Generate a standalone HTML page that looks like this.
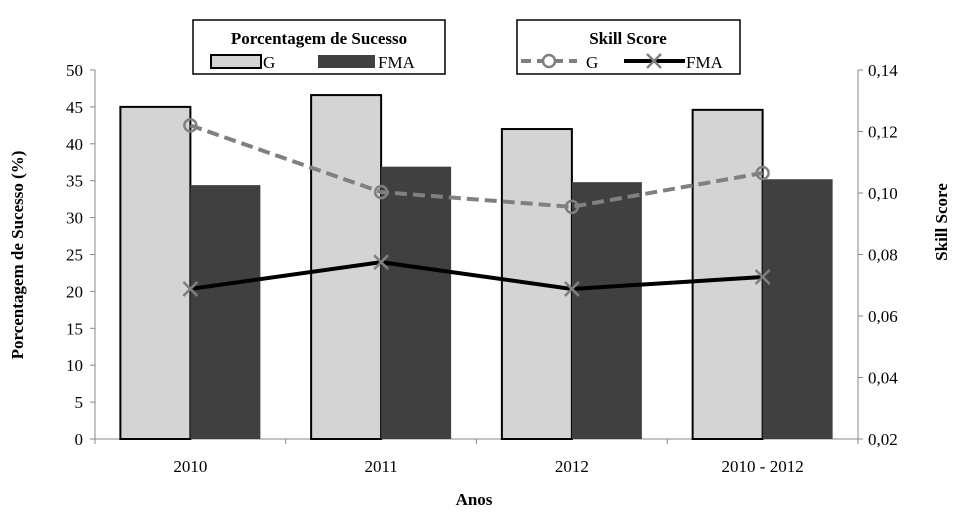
<!DOCTYPE html>
<html><head><meta charset="utf-8"><style>
body{margin:0;background:#fff;}
svg{display:block;font-family:"Liberation Serif",serif;}
</style></head><body>
<svg id="c" width="976" height="514"></svg>
<script>
const categories=["2010","2011","2012","2010 - 2012"];
const gPct=[45.0,46.6,42.0,44.6];
const fmaPct=[34.4,36.9,34.8,35.2];
const gSkill=[0.122,0.1003,0.0955,0.1065];
const fmaSkill=[0.0688,0.0775,0.0688,0.0727];
const leftTicks=[0,5,10,15,20,25,30,35,40,45,50];
const rightTicks=[0.02,0.04,0.06,0.08,0.10,0.12,0.14];

const NS="http://www.w3.org/2000/svg";
const svg=document.getElementById('c');
function mk(t,a,p){const e=document.createElementNS(NS,t);for(const k in a)e.setAttribute(k,a[k]);(p||svg).appendChild(e);return e;}
const X0=95,X1=858,Y0=439,Y1=70;
const yL=v=>Y0-(v/50)*(Y0-Y1);
const yR=v=>Y0-((v-0.02)/0.12)*(Y0-Y1);
const bw=(X1-X0)/categories.length;
const xc=i=>X0+bw*(i+0.5);

// axes
let e=mk('line',{x1:X0,y1:Y1,x2:X0,y2:Y0,stroke:'#888','stroke-width':1});

e=mk('line',{x1:X1,y1:Y1,x2:X1,y2:Y0,stroke:'#888','stroke-width':1});

e=mk('line',{x1:X0,y1:Y0,x2:X1,y2:Y0,stroke:'#888','stroke-width':1});


leftTicks.forEach(v=>{
 mk('line',{x1:X0-5,x2:X0,y1:yL(v),y2:yL(v),stroke:'#888'});
 const t=mk('text',{x:X0-12,y:yL(v)+6,'text-anchor':'end','font-size':17});t.textContent=v;
 
});
rightTicks.forEach(v=>{
 mk('line',{x1:X1,x2:X1+5,y1:yR(v),y2:yR(v),stroke:'#888'});
 const t=mk('text',{x:X1+10,y:yR(v)+6,'font-size':17});t.textContent=v.toFixed(2).replace('.',',');
 
});
for(let i=0;i<=categories.length;i++){mk('line',{x1:X0+bw*i,x2:X0+bw*i,y1:Y0,y2:Y0+5,stroke:'#888'});}

const BW=70;
categories.forEach((c,i)=>{
 let r=mk('rect',{x:xc(i)-BW,y:yL(gPct[i]),width:BW,height:Y0-yL(gPct[i]),fill:'#d4d4d4',stroke:'#000','stroke-width':2});
 
 r=mk('rect',{x:xc(i),y:yL(fmaPct[i]),width:BW,height:Y0-yL(fmaPct[i]),fill:'#404040'});
 
 const t=mk('text',{x:xc(i),y:472,'text-anchor':'middle','font-size':17});t.textContent=c;
 
});
let pl=mk('polyline',{points:gSkill.map((v,i)=>xc(i)+','+yR(v)).join(' '),fill:'none',stroke:'#808080','stroke-width':4,'stroke-dasharray':'12,6'});

pl=mk('polyline',{points:fmaSkill.map((v,i)=>xc(i)+','+yR(v)).join(' '),fill:'none',stroke:'#000','stroke-width':4});

gSkill.forEach((v,i)=>{const m=mk('circle',{cx:xc(i),cy:yR(v),r:6,fill:'none',stroke:'#808080','stroke-width':2.5});
 });
fmaSkill.forEach((v,i)=>{const x=xc(i),y=yR(v);
 const g=mk('path',{d:`M${x-7},${y-7}L${x+7},${y+7}M${x-7},${y+7}L${x+7},${y-7}`,stroke:'#808080','stroke-width':2.5});
 });
</script>
<svg width="976" height="514" style="position:absolute;left:0;top:0">
 <g font-family="Liberation Serif, serif" font-weight="bold">
  <text x="474" y="505" text-anchor="middle" font-size="17">Anos</text>
  <text transform="translate(23,255) rotate(-90)" text-anchor="middle" font-size="17">Porcentagem de Sucesso (%)</text>
  <text transform="translate(947,222) rotate(-90)" text-anchor="middle" font-size="17">Skill Score</text>
 </g>
 <g>
  <rect x="193" y="20" width="252" height="54" fill="#fff" stroke="#000" stroke-width="1.5"/>
  <text x="319" y="44" text-anchor="middle" font-size="17" font-weight="bold" font-family="Liberation Serif, serif">Porcentagem de Sucesso</text>
  <rect x="211" y="55" width="50" height="13" fill="#d4d4d4" stroke="#000" stroke-width="2"/>
  <text x="263" y="68" font-size="17" font-family="Liberation Serif, serif">G</text>
  <rect x="318" y="55" width="57" height="13" fill="#404040"/>
  <text x="378" y="68" font-size="17" font-family="Liberation Serif, serif">FMA</text>
 </g>
 <g>
  <rect x="517" y="20" width="223" height="54" fill="#fff" stroke="#000" stroke-width="1.5"/>
  <text x="628" y="44" text-anchor="middle" font-size="17" font-weight="bold" font-family="Liberation Serif, serif">Skill Score</text>
  <line x1="521" y1="61" x2="577" y2="61" stroke="#808080" stroke-width="4" stroke-dasharray="10,6"/>
  <circle cx="549" cy="61" r="6" fill="#fff" stroke="#808080" stroke-width="2.5"/>
  <text x="586" y="68" font-size="17" font-family="Liberation Serif, serif">G</text>
  <line x1="624" y1="61" x2="685" y2="61" stroke="#000" stroke-width="4"/>
  <path d="M647,54L661,68M647,68L661,54" stroke="#808080" stroke-width="2.5"/>
  <text x="686" y="68" font-size="17" font-family="Liberation Serif, serif">FMA</text>
 </g>
</svg>
</body></html>
